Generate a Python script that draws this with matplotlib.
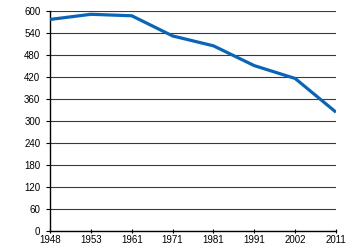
import matplotlib
matplotlib.use("Agg")
import matplotlib.pyplot as plt

years = ["1948", "1953", "1961", "1971", "1981", "1991", "2002", "2011"]
values = [577, 591, 587, 532, 505, 451, 416, 324]
yticks = [0, 60, 120, 180, 240, 300, 360, 420, 480, 540, 600]

plt.rcParams['font.family'] = ['Liberation Sans', 'DejaVu Sans']
fig = plt.figure(figsize=(3.5, 2.5), dpi=100)
ax = fig.add_axes([0.143, 0.076, 0.817, 0.88])
x = list(range(len(years)))
ax.plot(x, values, color="#0a64b8", lw=2.3, solid_capstyle="butt", zorder=3)
ax.set_xlim(0, len(years) - 1)
ax.set_ylim(0, 600)
ax.set_yticks(yticks)
ax.set_xticks(x)
ax.set_xticklabels(years)
ax.grid(axis="y", color="#3a3a3a", lw=0.8)
for s in ["top", "right"]:
    ax.spines[s].set_visible(False)
ax.spines["left"].set_linewidth(1.0)
ax.spines["bottom"].set_linewidth(1.0)
ax.tick_params(axis="y", length=3, width=0.8, labelsize=7, pad=4)
ax.tick_params(axis="x", length=3, width=0.8, labelsize=7, pad=1.5, direction="inout")
fig.savefig("out.png", dpi=100)
